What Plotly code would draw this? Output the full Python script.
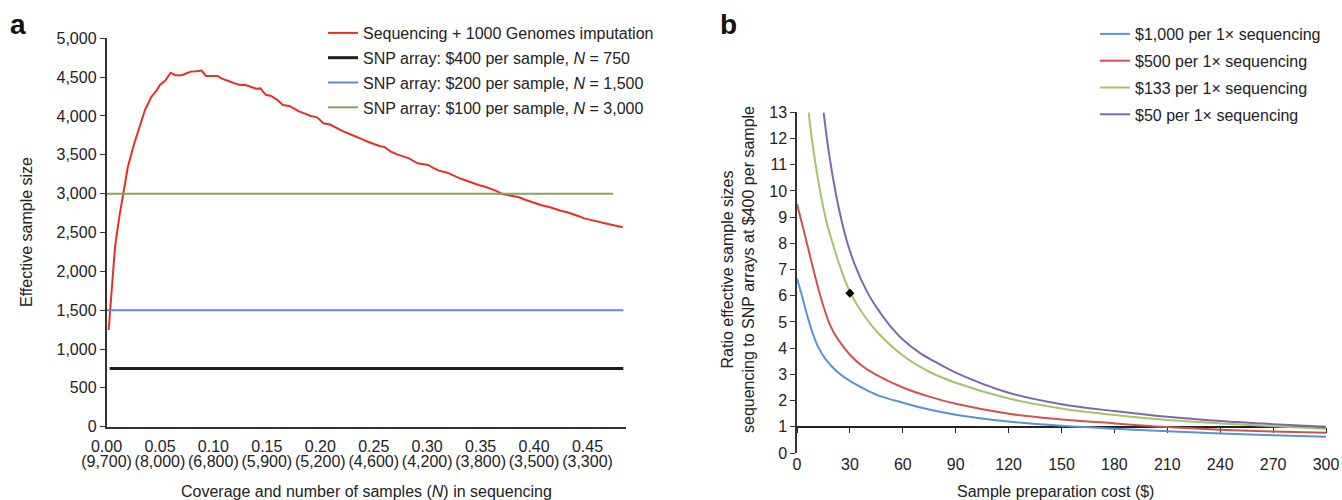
import plotly.graph_objects as go

# ---------------- data: panel a ----------------
coverage = [0.002, 0.005, 0.008, 0.012, 0.016, 0.020, 0.026, 0.031, 0.036, 0.042,
            0.047, 0.050, 0.055, 0.060, 0.064, 0.068, 0.071, 0.075, 0.079, 0.084,
            0.089, 0.093, 0.098, 0.104, 0.108, 0.112, 0.116, 0.120, 0.125, 0.130,
            0.135, 0.140, 0.144, 0.149, 0.154, 0.160, 0.165, 0.171, 0.176, 0.180,
            0.185, 0.191, 0.197, 0.203, 0.209, 0.215, 0.222, 0.228, 0.234, 0.240,
            0.245, 0.250, 0.256, 0.260, 0.266, 0.272, 0.278, 0.283, 0.291, 0.296,
            0.301, 0.306, 0.311, 0.319, 0.325, 0.330, 0.335, 0.341, 0.348, 0.355,
            0.360, 0.364, 0.370, 0.378, 0.386, 0.391, 0.397, 0.402, 0.407, 0.415,
            0.420, 0.425, 0.431, 0.437, 0.442, 0.447, 0.455, 0.460, 0.466, 0.471,
            0.476, 0.483]
seq_effective = [1245, 1846, 2317, 2703, 3004, 3347, 3648, 3870, 4077, 4248,
                 4330, 4399, 4455, 4557, 4528, 4520, 4528, 4550, 4571, 4575,
                 4584, 4515, 4515, 4515, 4480, 4455, 4440, 4420, 4400, 4399,
                 4375, 4352, 4355, 4272, 4258, 4205, 4142, 4129, 4090, 4060,
                 4034, 4000, 3983, 3906, 3890, 3845, 3798, 3765, 3734, 3695,
                 3665, 3639, 3610, 3600, 3541, 3505, 3480, 3455, 3391, 3380,
                 3369, 3330, 3296, 3270, 3230, 3200, 3176, 3145, 3112, 3085,
                 3060, 3040, 2996, 2970, 2953, 2925, 2897, 2870, 2850, 2824,
                 2800, 2781, 2760, 2738, 2710, 2682, 2661, 2640, 2618, 2605,
                 2590, 2567]

snp_names = ["SNP array: $400 per sample, <i>N</i> = 750",
             "SNP array: $200 per sample, <i>N</i> = 1,500",
             "SNP array: $100 per sample, <i>N</i> = 3,000"]
snp_N = [750, 1500, 3000]
snp_span = [[0.003, 0.4835], [0.0, 0.4835], [0.0, 0.474]]

a_tickvals = [0.00, 0.05, 0.10, 0.15, 0.20, 0.25, 0.30, 0.35, 0.40, 0.45]
a_samples = ["9,700", "8,000", "6,800", "5,900", "5,200", "4,600", "4,200", "3,800", "3,500", "3,300"]

# ---------------- data: panel b ----------------
b_names = ["$1,000 per 1× sequencing", "$500 per 1× sequencing",
           "$133 per 1× sequencing", "$50 per 1× sequencing"]
blue_x = [0, 3, 6, 9, 12, 16, 22, 30, 38, 46, 60, 75, 90, 120, 150, 180, 210, 240, 270, 300]
blue_y = [6.66, 5.95, 5.2, 4.55, 4.05, 3.6, 3.15, 2.75, 2.45, 2.2, 1.92, 1.66, 1.46, 1.2, 1.04, 0.93, 0.83, 0.74, 0.68, 0.62]
red_x = [0, 4, 8, 12, 15, 18, 21, 25, 30, 37, 45, 60, 75, 90, 120, 150, 180, 210, 240, 270, 300]
red_y = [9.5, 8.45, 7.35, 6.3, 5.6, 5.0, 4.58, 4.17, 3.75, 3.32, 2.98, 2.5, 2.15, 1.88, 1.5, 1.28, 1.13, 0.99, 0.89, 0.82, 0.77]
green_x = [6.6, 9, 13.5, 17, 20.7, 25, 30, 38.5, 46, 60, 75, 90, 120, 150, 180, 210, 240, 270, 300]
green_y = [13.0, 11.7, 9.85, 8.75, 7.9, 7.0, 6.15, 5.2, 4.58, 3.72, 3.1, 2.68, 2.08, 1.7, 1.45, 1.26, 1.13, 1.02, 0.93]
purple_x = [15.1, 18, 22, 25, 28, 33, 40, 46, 52, 60, 70, 80, 90, 120, 150, 180, 210, 240, 270, 300]
purple_y = [13.0, 11.5, 9.9, 8.95, 8.15, 7.15, 6.12, 5.47, 4.92, 4.33, 3.8, 3.42, 3.07, 2.3, 1.86, 1.6, 1.38, 1.22, 1.1, 1.0]
b_series = [(blue_x, blue_y), (red_x, red_y), (green_x, green_y), (purple_x, purple_y)]
b_colors = ["#5b93cc", "#cc5450", "#a4c46a", "#7f68a8"]
marker_x = [30]
marker_y = [6.1]
b_tickvals = [0, 30, 60, 90, 120, 150, 180, 210, 240, 270, 300]

# ---------------- layout helpers ----------------
W, H = 1342, 500
FONT = "Liberation Sans, Arial, Helvetica, sans-serif"
FS = 16
TXT = "#222222"


def fx(p):
    return p / W


def fy(p):
    return 1 - p / H


a_xdom = [fx(106.5), fx(626)]
a_ydom = [fy(426.7), fy(38.3)]
b_xdom = [fx(797), fx(1326)]
b_ydom = [fy(453), fy(112.3)]
b_yrange = [0, 13]
# paper position of y = 1 on panel b (x axis crosses there)
cross_pos = b_ydom[0] + (1 - b_yrange[0]) / (b_yrange[1] - b_yrange[0]) * (b_ydom[1] - b_ydom[0])

fig = go.Figure()

# panel a
fig.add_trace(go.Scatter(x=coverage, y=seq_effective, mode="lines",
                         line=dict(color="#e62f2b", width=2),
                         name="Sequencing + 1000 Genomes imputation",
                         xaxis="x", yaxis="y", legend="legend", legendgroup="a0"))
snp_colors = ["#1e1e1e", "#6289d6", "#86a55a"]
snp_widths = [3, 2, 2]
snp_axes = ["x", "x", "x4"]
for i, (nm, n, sp) in enumerate(zip(snp_names, snp_N, snp_span)):
    fig.add_trace(go.Scatter(x=sp, y=[n, n], mode="lines",
                             line=dict(color=snp_colors[i], width=snp_widths[i]),
                             name=nm, xaxis=snp_axes[i], yaxis="y", legend="legend",
                             legendgroup="a%d" % (i + 1)))

# panel b
for i, ((xs, ys), nm) in enumerate(zip(b_series, b_names)):
    fig.add_trace(go.Scatter(x=xs, y=ys, mode="lines",
                             line=dict(color=b_colors[i], width=2, shape="spline", smoothing=1.0),
                             name=nm, xaxis="x2", yaxis="y2", legend="legend2",
                             legendgroup="b%d" % i))
fig.add_trace(go.Scatter(x=marker_x, y=marker_y, mode="markers",
                         marker=dict(symbol="diamond", size=7, color="black"),
                         showlegend=False, xaxis="x3", yaxis="y2"))

tickfont = dict(family=FONT, size=FS, color=TXT)

fig.update_layout(
    width=W, height=H,
    margin=dict(l=0, r=0, t=0, b=0),
    paper_bgcolor="white", plot_bgcolor="white",
    font=dict(family=FONT, size=FS, color=TXT),
    xaxis=dict(domain=a_xdom, range=[0, 0.486], anchor="y",
               tickvals=a_tickvals,
               ticktext=["%.2f" % v for v in a_tickvals],
               showline=True, linecolor="#333", linewidth=1.5, ticks="",
               ticklabelstandoff=4, ticklabeloverflow="allow",
               showgrid=False, zeroline=False, tickfont=tickfont, automargin=False),
    xaxis4=dict(domain=a_xdom, range=[0, 0.486], anchor="y", overlaying="x",
                tickvals=a_tickvals,
                ticktext=["(%s)" % s for s in a_samples],
                showline=False, ticks="", ticklabelstandoff=23, ticklabeloverflow="allow",
                showgrid=False, zeroline=False, tickfont=tickfont, automargin=False),
    yaxis=dict(domain=a_ydom, range=[0, 5000], anchor="x", dtick=500,
               tickformat=",", showline=True, linecolor="#333", linewidth=1.5,
               ticks="outside", ticklen=5, tickcolor="#333",
               showgrid=False, zeroline=False, tickfont=tickfont, automargin=False),
    xaxis2=dict(domain=b_xdom, range=[0, 300], anchor="free", position=cross_pos,
                tickvals=b_tickvals, showticklabels=False,
                showline=True, linecolor="#222", linewidth=1.5,
                ticks="outside", ticklen=5, tickcolor="#222",
                layer="below traces",
                showgrid=False, zeroline=False, automargin=False),
    xaxis3=dict(domain=b_xdom, range=[0, 300], anchor="y2", overlaying="x2",
                tickvals=b_tickvals, showline=False, ticks="", ticklabeloverflow="allow",
                showgrid=False, zeroline=False, tickfont=tickfont, automargin=False),
    yaxis2=dict(domain=b_ydom, range=b_yrange, anchor="x2", dtick=1,
                showline=True, linecolor="#333", linewidth=1.5,
                ticks="outside", ticklen=5, tickcolor="#333",
                showgrid=False, zeroline=False, tickfont=tickfont, automargin=False),
    legend=dict(x=fx(323), y=fy(16), xanchor="left", yanchor="top",
                bgcolor="rgba(0,0,0,0)", font=dict(family=FONT, size=FS, color=TXT),
                tracegroupgap=1, itemclick=False),
    legend2=dict(x=fx(1095), y=fy(17), xanchor="left", yanchor="top",
                 bgcolor="rgba(0,0,0,0)", font=dict(family=FONT, size=FS, color=TXT),
                 tracegroupgap=3, itemclick=False),
    showlegend=True,
)

ann = [
    dict(text="<b>a</b>", x=fx(18), y=fy(24), font=dict(size=28, color="#111")),
    dict(text="<b>b</b>", x=fx(728), y=fy(24), font=dict(size=28, color="#111")),
    dict(text="Effective sample size", x=fx(27), y=fy(232), textangle=-90),
    dict(text="Coverage and number of samples (<i>N</i>) in sequencing", x=fx(366), y=fy(491)),
    dict(text="Ratio effective sample sizes<br>sequencing to SNP arrays at $400 per sample",
         x=fx(738), y=fy(270), textangle=-90),
    dict(text="Sample preparation cost ($)", x=fx(1055), y=fy(491)),
]
for a in ann:
    a.update(xref="paper", yref="paper", showarrow=False, xanchor="center", yanchor="middle")
    fig.add_annotation(**a)

fig.write_html("out.html")
